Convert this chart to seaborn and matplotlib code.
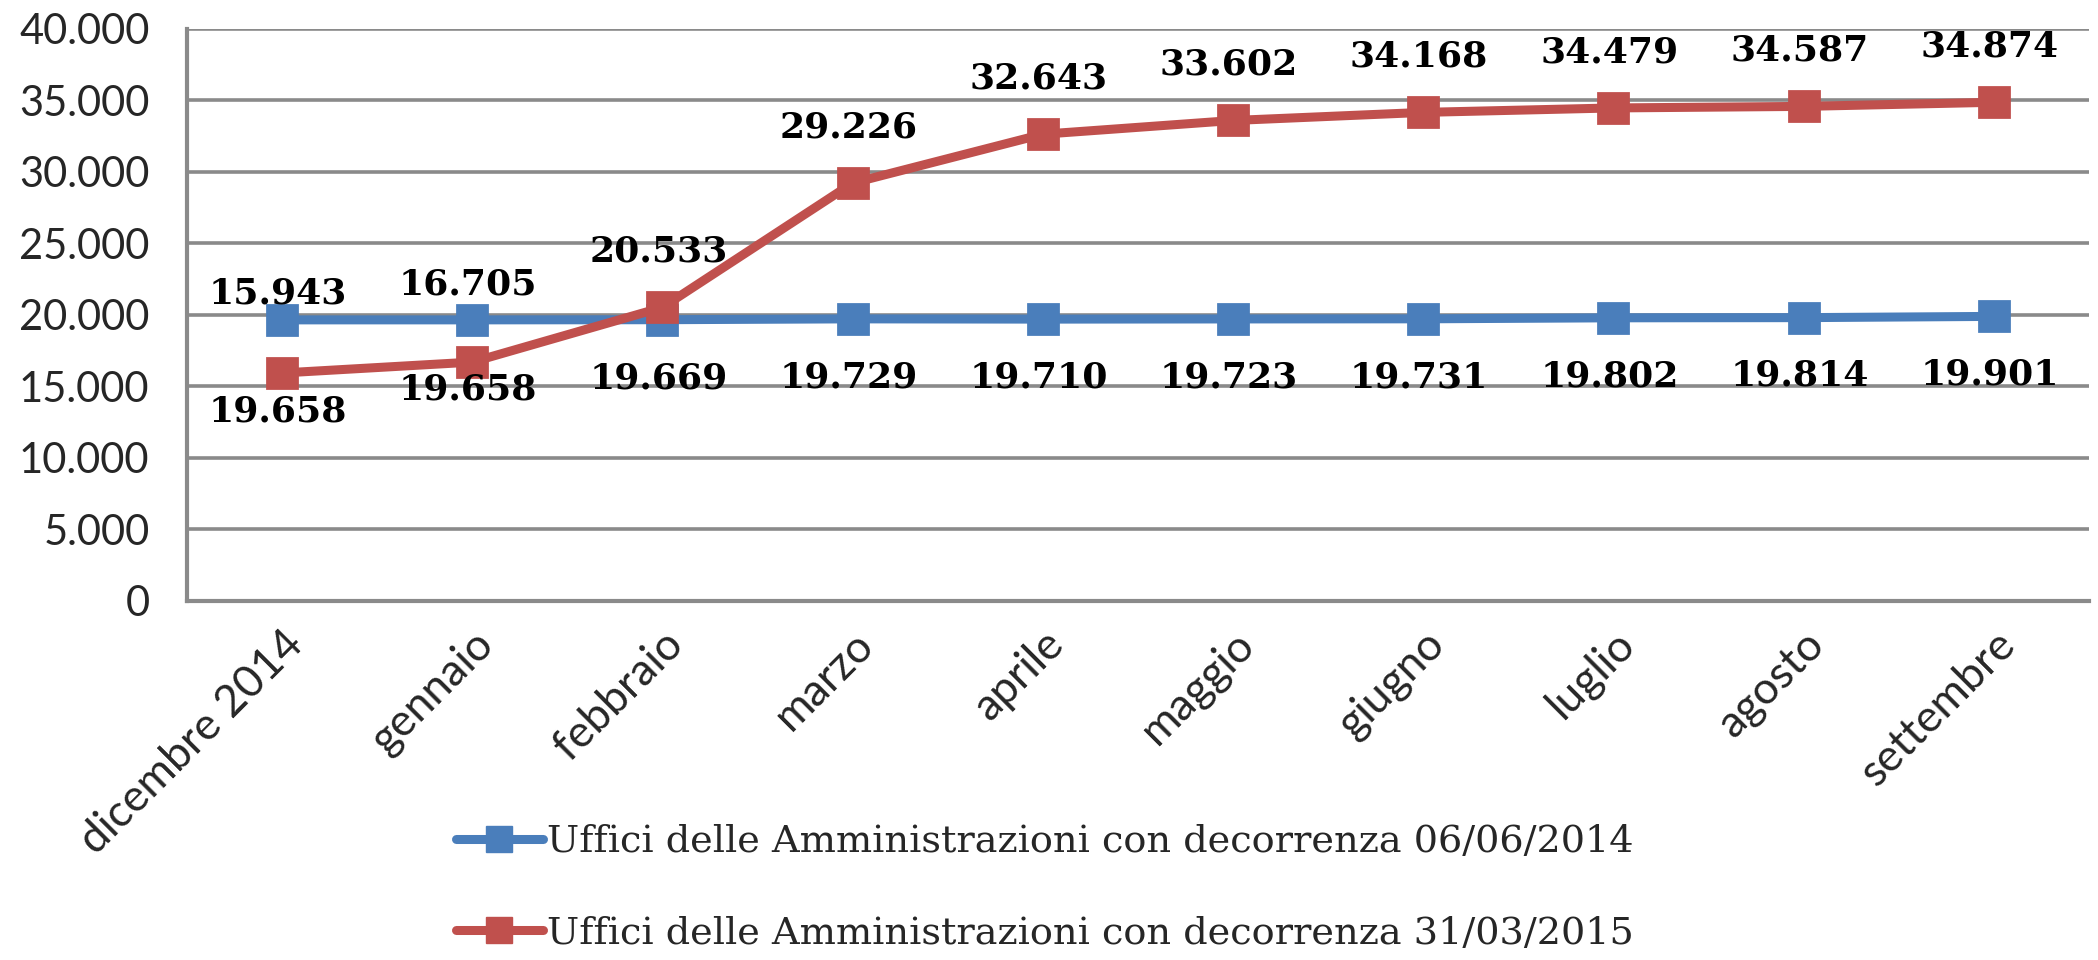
import numpy as np
import pandas as pd
import matplotlib
matplotlib.use("Agg")
import matplotlib.pyplot as plt
from matplotlib.lines import Line2D
import seaborn as sns

mesi = ["dicembre 2014", "gennaio", "febbraio", "marzo", "aprile",
        "maggio", "giugno", "luglio", "agosto", "settembre"]
serie = ["Uffici delle Amministrazioni con decorrenza 06/06/2014",
         "Uffici delle Amministrazioni con decorrenza 31/03/2015"]
uffici_2014 = [19658, 19658, 19669, 19729, 19710, 19723, 19731, 19802, 19814, 19901]
uffici_2015 = [15943, 16705, 20533, 29226, 32643, 33602, 34168, 34479, 34587, 34874]

BLUE, RED, GRID = "#4A7EBB", "#C0504D", "#8A8A8A"

df = pd.DataFrame({
    "mese": mesi * 2,
    "serie": [serie[0]] * len(mesi) + [serie[1]] * len(mesi),
    "valore": uffici_2014 + uffici_2015,
})

sns.set_theme(style="white")
plt.rcParams["font.family"] = ["DejaVu Serif"]

fig = plt.figure(figsize=(20.98, 9.6), dpi=100)
ax = fig.add_axes([0.0891, 0.374, 0.9066, 0.5958])

sns.pointplot(data=df, x="mese", y="valore", hue="serie", order=mesi, hue_order=serie,
              palette=[BLUE, RED], markers="s", linestyles="-", errorbar=None,
              markersize=19, linewidth=6.5, ax=ax)
ax.get_legend().remove()

ax.set_ylim(0, 40000)
ax.set_xlim(-0.5, len(mesi) - 0.5)
ax.set_yticks(np.arange(0, 40001, 5000))
ax.yaxis.set_major_formatter(lambda v, p: f"{int(v):,}".replace(",", "."))
ax.set_xlabel(""); ax.set_ylabel("")
ax.yaxis.grid(True, color=GRID, lw=2.6)
ax.set_axisbelow(True)
for s in ["top", "right"]:
    ax.spines[s].set_visible(False)
for s in ["left", "bottom"]:
    ax.spines[s].set_color(GRID); ax.spines[s].set_linewidth(3)

ax.tick_params(axis="y", length=9, width=2.6, color=GRID, labelsize=30, pad=18)
ax.set_xticks(np.arange(-0.5, len(mesi), 1), minor=True)
ax.tick_params(axis="x", which="major", length=0, labelsize=32, pad=16)
ax.tick_params(axis="x", which="minor", length=10, width=2.6, color=GRID)
for lab in ax.get_xticklabels() + ax.get_yticklabels():
    lab.set_family("Lato")
plt.setp(ax.get_xticklabels(), rotation=45, ha="right", rotation_mode="anchor")

# data labels: 2014 below, 2015 above (first two nudged as in the original)
nudge_2014 = {0: -24, 1: -8}
nudge_2015 = {0: 17, 1: 16}
fmt = lambda v: f"{v:,}".replace(",", ".")
for i, v in enumerate(uffici_2014):
    ax.annotate(fmt(v), (i, v), xytext=(-3, -42 + nudge_2014.get(i, 0)), textcoords="offset points",
                ha="center", va="center", fontsize=26, fontweight="bold", color="black")
for i, v in enumerate(uffici_2015):
    ax.annotate(fmt(v), (i, v), xytext=(-3, 40 + nudge_2015.get(i, 0)), textcoords="offset points",
                ha="center", va="center", fontsize=26, fontweight="bold", color="black",
                annotation_clip=False)

handles = [Line2D([], [], color=c, lw=6.5, marker="s", markersize=19) for c in [BLUE, RED]]
fig.legend(handles, serie, loc="center", bbox_to_anchor=(0.498, 0.075), frameon=False,
           fontsize=27.5, handlelength=2.3, handletextpad=0.1, labelspacing=1.45)

fig.savefig("out.png", dpi=100)
